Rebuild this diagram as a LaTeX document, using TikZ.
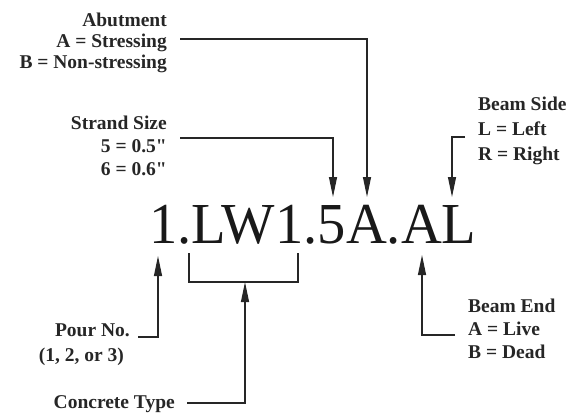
\documentclass[tikz,border=0pt]{standalone}
\usepackage{fontspec}
\usepackage{graphicx}
\setmainfont{Liberation Serif}[Ligatures=TeXOff]
\usetikzlibrary{arrows.meta}
\begin{document}
\begin{tikzpicture}[x=1pt,y=-1pt,
  lab/.style={inner sep=0pt, text=black!85},
  conn/.style={line width=1.2pt, draw=black!85},
  arr/.style={conn, -{Triangle[length=20pt,width=8pt]}}]
\useasboundingbox (0,0) rectangle (572,416);

% main code
\node[anchor=base west, inner sep=0pt, text=black!90,
      font=\fontsize{58}{60}\selectfont] (code) at (149,243)
      {\scalebox{0.975}[1]{1.LW1.5A.AL}};

% labels
\node[lab, align=right, anchor=north east,
      font=\fontsize{19.5}{21}\bfseries\selectfont] (abut) at (167,12.5)
      {Abutment\\A = Stressing\\B = Non-stressing};
\node[lab, align=right, anchor=north east,
      font=\fontsize{19.5}{23}\bfseries\selectfont] (strand) at (167,115.5)
      {Strand Size\\5 = 0.5"\\6 = 0.6"};
\node[lab, align=left, anchor=north west,
      font=\fontsize{19.5}{25}\bfseries\selectfont] (side) at (478,96.5)
      {Beam Side\\L = Left\\R = Right};
\node[lab, align=left, anchor=north west,
      font=\fontsize{19.5}{23.3}\bfseries\selectfont] (bend) at (468,298.5)
      {Beam End\\A = Live\\B = Dead};
\node[lab, align=right, anchor=north east,
      font=\fontsize{19.5}{25.5}\bfseries\selectfont] (pour) at (130,323.5)
      {Pour No.\\(1, 2, or 3)\hspace*{6pt}};
\node[lab, anchor=base east,
      font=\fontsize{19.5}{21}\bfseries\selectfont] (ctype) at (175,408)
      {Concrete Type};

% connector points
\coordinate (abutS) at (180,39);
\coordinate (tipA) at (367,197);
\coordinate (strandS) at (180,138);
\coordinate (tip5) at (333,197);
\coordinate (sideS) at (465,137);
\coordinate (tipL) at (452,197);
\coordinate (pourS) at (138,337);
\coordinate (tip1) at (158,256);
\coordinate (bendS) at (455,335);
\coordinate (tipE) at (422,255);
\coordinate (ctypeS) at (187,403);
\coordinate (tipB) at (245,282);
\coordinate (brL) at (189,253);
\coordinate (brR) at (298,253);

% connectors
\draw[arr] (abutS) -| (tipA);
\draw[arr] (strandS) -| (tip5);
\draw[arr] (sideS) -| (tipL);
\draw[arr] (pourS) -| (tip1);
\draw[arr] (bendS) -| (tipE);
\draw[arr] (ctypeS) -| (tipB);
\draw[conn] (brL) -- (brL |- tipB) -- (brR |- tipB) -- (brR);
\end{tikzpicture}
\end{document}
